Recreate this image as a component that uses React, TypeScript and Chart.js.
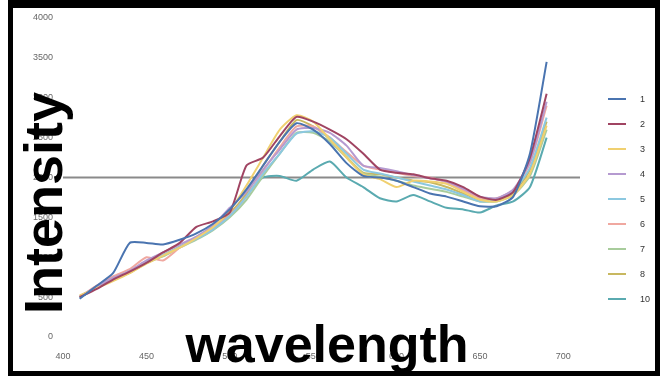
import React, { useEffect, useRef } from "react";
import { Chart, registerables } from "chart.js";

Chart.register(...registerables);

const WAVELENGTHS = [410, 420, 430, 440, 450, 460, 470, 480, 490, 500, 510, 520, 530, 540, 550, 560, 570, 580, 590, 600, 610, 620, 630, 640, 650, 660, 670, 680, 690];

const SERIES_NAMES = ["1", "2", "3", "4", "5", "6", "7", "8", "10"];
const SERIES_COLORS = ["#4a74b0", "#a04462", "#f0d070", "#b59ad0", "#8cc8e0", "#f0a8a0", "#a8cc9c", "#c8b860", "#5aaab0"];

const S1 = [480, 640, 800, 1180, 1180, 1160, 1220, 1300, 1420, 1600, 1850, 2150, 2450, 2680, 2600, 2420, 2180, 2020, 2000, 1960, 1880, 1800, 1760, 1700, 1640, 1640, 1760, 2300, 3450];
const S2 = [500, 600, 720, 820, 930, 1060, 1180, 1380, 1450, 1560, 2150, 2250, 2520, 2760, 2700, 2600, 2480, 2300, 2100, 2060, 2040, 1990, 1960, 1880, 1760, 1720, 1820, 2250, 3050];
const S3 = [520, 610, 700, 800, 920, 1020, 1120, 1240, 1380, 1580, 1900, 2250, 2600, 2780, 2700, 2480, 2250, 2040, 1980, 1880, 1960, 1950, 1920, 1820, 1720, 1700, 1780, 2050, 2650];
const S4 = [510, 630, 740, 830, 960, 1060, 1160, 1260, 1400, 1620, 1820, 2100, 2350, 2600, 2620, 2560, 2400, 2150, 2120, 2080, 2030, 1990, 1950, 1860, 1760, 1740, 1850, 2200, 2950];
const S5 = [490, 620, 730, 820, 950, 1030, 1130, 1230, 1350, 1520, 1760, 2050, 2300, 2550, 2580, 2500, 2300, 2100, 2050, 2000, 1950, 1900, 1850, 1780, 1700, 1720, 1830, 2120, 2750];
const S6 = [500, 640, 760, 850, 1000, 960, 1120, 1240, 1360, 1530, 1760, 2080, 2380, 2640, 2640, 2500, 2320, 2150, 2100, 2060, 2020, 2000, 1940, 1840, 1740, 1740, 1840, 2180, 2900];
const S7 = [505, 625, 720, 810, 930, 1010, 1120, 1220, 1340, 1500, 1720, 2020, 2300, 2560, 2560, 2450, 2250, 2050, 2010, 1960, 1900, 1860, 1820, 1760, 1700, 1700, 1780, 2020, 2600];
const S8 = [500, 620, 715, 805, 930, 1030, 1130, 1240, 1370, 1550, 1800, 2150, 2450, 2720, 2640, 2480, 2260, 2060, 2040, 2000, 1960, 1940, 1880, 1800, 1720, 1720, 1800, 2100, 2700];
const S10 = [495, 615, 720, 810, 925, 1020, 1130, 1230, 1350, 1530, 1780, 2000, 2020, 1960, 2100, 2200, 2000, 1880, 1740, 1700, 1780, 1700, 1620, 1600, 1560, 1650, 1700, 1880, 2500];

const SERIES_VALUES = [S1, S2, S3, S4, S5, S6, S7, S8, S10];

const REF_X = [400, 710];
const REF_Y = [2000, 2000];

const Y_TICKS = [0, 500, 1000, 1500, 2000, 2500, 3000, 3500, 4000];
const X_TICKS = [400, 450, 500, 550, 600, 650, 700];
const X_MIN = 400;
const X_MAX = 710;

export default function App() {
  const canvasRef = useRef<HTMLCanvasElement | null>(null);

  useEffect(() => {
    const canvas = canvasRef.current;
    if (!canvas) return;
    const datasets: any[] = SERIES_VALUES.map((vals, i) => ({
      label: SERIES_NAMES[i],
      data: vals.map((v, j) => ({ x: WAVELENGTHS[j], y: v })),
      borderColor: SERIES_COLORS[i],
      backgroundColor: SERIES_COLORS[i],
      borderWidth: 2,
      pointRadius: 0,
      tension: 0.2,
      fill: false,
    }));
    datasets.push({
      label: "ref",
      data: REF_X.map((x, j) => ({ x, y: REF_Y[j] })),
      borderColor: "#8a8a8a",
      borderWidth: 2,
      pointRadius: 0,
      fill: false,
    });
    const chart = new Chart(canvas, {
      type: "line",
      data: { datasets },
      options: {
        animation: false,
        responsive: false,
        maintainAspectRatio: false,
        layout: { padding: { left: 23, right: 80, top: 18, bottom: 15 } },
        plugins: { legend: { display: false }, tooltip: { enabled: false } },
        scales: {
          x: {
            type: "linear",
            min: X_MIN,
            max: X_MAX,
            grid: { display: false, drawTicks: false },
            border: { display: false },
            afterBuildTicks: (s: any) => { s.ticks = X_TICKS.map((v) => ({ value: v })); },
            ticks: {
              padding: 14,
              color: "#666",
              font: { family: "Liberation Sans", size: 9 },
              callback: (v: any) => String(v),
            },
            afterFit: (s: any) => { s.height = 24; },
          },
          y: {
            min: Y_TICKS[0],
            max: Y_TICKS[Y_TICKS.length - 1],
            grid: { display: false, drawTicks: false },
            border: { display: false },
            afterBuildTicks: (s: any) => { s.ticks = Y_TICKS.map((v) => ({ value: v })); },
            ticks: {
              padding: 10,
              color: "#666",
              font: { family: "Liberation Sans", size: 9 },
              callback: (v: any) => String(v),
            },
            afterFit: (s: any) => { s.width = 40; },
          },
        },
      },
    });
    return () => chart.destroy();
  }, []);

  return (
    <div style={{ position: "fixed", left: 0, top: 0, width: 660, height: 376, background: "#fff", overflow: "hidden" }}>
      <canvas ref={canvasRef} width={660} height={376} style={{ position: "absolute", left: 0, top: 0, width: 660, height: 376 }} />
      <div style={{ position: "absolute", left: 8, top: -2, width: 652, height: 378, boxSizing: "border-box", borderStyle: "solid", borderColor: "#000", borderWidth: "10px 5px 5px 5px", pointerEvents: "none" }} />
      <div style={{ position: "absolute", left: 600, top: 86, width: 56 }}>
        {SERIES_NAMES.map((n, i) => (
          <div key={n} style={{ display: "flex", alignItems: "center", height: 25, fontFamily: "Liberation Sans", fontSize: 9, color: "#333" }}>
            <div style={{ width: 18, height: 2, background: SERIES_COLORS[i], marginLeft: 8, marginRight: 14 }} />
            <span>{n}</span>
          </div>
        ))}
      </div>
      <div style={{ position: "absolute", left: 43 - 130, top: 203 - 26, width: 260, height: 52, lineHeight: "52px", textAlign: "center", transform: "rotate(-90deg)", fontFamily: "Liberation Sans", fontWeight: "bold", fontSize: 54, color: "#000", whiteSpace: "nowrap" }}>
        Intensity
      </div>
      <div style={{ position: "absolute", left: 177, top: 318, width: 300, height: 52, lineHeight: "52px", textAlign: "center", fontFamily: "Liberation Sans", fontWeight: "bold", fontSize: 52, color: "#000", whiteSpace: "nowrap" }}>
        wavelength
      </div>
    </div>
  );
}
